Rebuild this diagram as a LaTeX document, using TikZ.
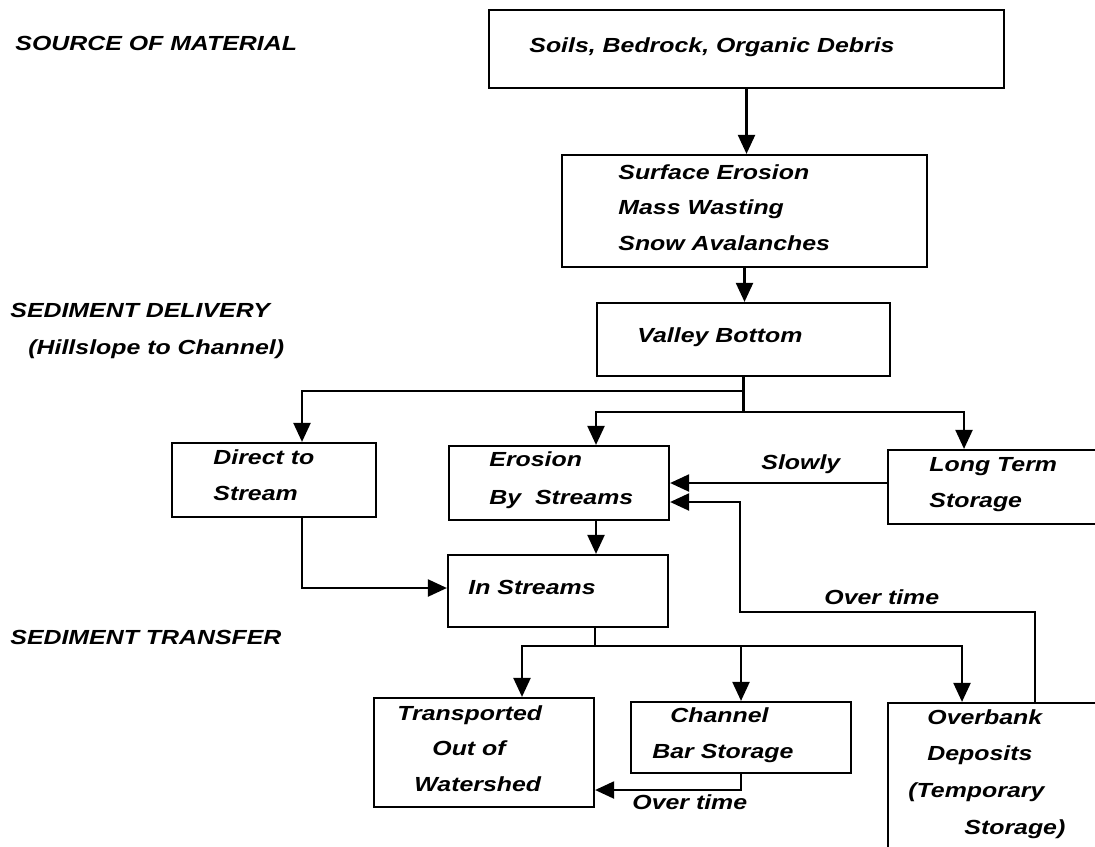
\documentclass[tikz,border=0pt]{standalone}
\usepackage{fontspec}
\newfontfamily\chartfont{Liberation Sans}[FakeStretch=1.22]
\usetikzlibrary{arrows.meta,fit}
\tikzstyle{every node}=[anchor=base west,inner sep=0pt,font=\chartfont\bfseries\itshape\fontsize{10.2}{12}\selectfont]
\tikzstyle{box}=[draw,line width=1.1pt,inner sep=0pt,anchor=center]
\tikzstyle{wire}=[line width=1.1pt]
\tikzstyle{flow}=[line width=1.1pt,-{Triangle[length=9.5pt,width=8.5pt]}]

\begin{document}
\begin{tikzpicture}[x=0.5pt,y=-0.5pt]
  \clip (0,0) rectangle (1095,846);
  \fill[white] (0,0) rectangle (1095,846);
  % stage headings
  \node (hsrc) at (15,50) {SOURCE OF MATERIAL};
  \node (hdel) at (10,317) {SEDIMENT DELIVERY};
  \node (hhill) at (28,354) {(Hillslope to Channel)};
  \node (htra) at (10,644) {SEDIMENT TRANSFER};
  % boxes
  \node[box,fit={(489,10) (1004,88)}] (src) {};
  \node[box,fit={(562,155) (927,267)}] (surf) {};
  \node[box,fit={(597,303) (890,376)}] (valley) {};
  \node[box,fit={(172,443) (376,517)}] (direct) {};
  \node[box,fit={(449,446) (669,520)}] (ero) {};
  \node[box,fit={(888,450) (1120,524)}] (store) {};
  \node[box,fit={(448,555) (668,627)}] (ins) {};
  \node[box,fit={(374,698) (594,807)}] (trans) {};
  \node[box,fit={(631,702) (851,773)}] (chan) {};
  \node[box,fit={(888,703) (1120,880)}] (bank) {};
  % box texts
  \node (t1) at (529,52) {Soils, Bedrock, Organic Debris};
  \node (t2) at (618,179) {Surface Erosion};
  \node (t3) at (618,214) {Mass Wasting};
  \node (t4) at (618,250) {Snow Avalanches};
  \node (t5) at (637,342) {Valley Bottom};
  \node (t6) at (213,464) {Direct to};
  \node (t7) at (213,500) {Stream};
  \node (t8) at (489,466) {Erosion};
  \node (t9) at (489,504) {By\ \ Streams};
  \node (t10) at (929,471) {Long Term};
  \node (t11) at (929,507) {Storage};
  \node (t12) at (468,594) {In Streams};
  \node (t13) at (397,720) {Transported};
  \node (t14) at (432,755) {Out of};
  \node (t15) at (414,791) {Watershed};
  \node (t16) at (670,722) {Channel};
  \node (t17) at (652,758) {Bar Storage};
  \node (t18) at (927,724) {Overbank};
  \node (t19) at (927,760) {Deposits};
  \node (t20) at (908,797) {(Temporary};
  \node (t21) at (964,834) {Storage)};
  % arrow labels
  \node (slow) at (761,469) {Slowly};
  \node (late1) at (824,604) {Over time};
  \node (late2) at (632,809) {Over time};
  % connectors
  \coordinate (v1) at (743.5,391);
  \coordinate (v2) at (743.5,412);
  \coordinate (back) at (740,612);
  \coordinate (s1) at (595,646);
  \draw[flow] (src.south) -- (src.south |- surf.north);
  \draw[flow] (surf.south) -- (surf.south |- valley.north);
  \draw[wire] (valley.south) -- (v2);
  \draw[flow] (v1) -| ([xshift=14pt]direct.north);
  \draw[flow] (v2) -| ([xshift=18.5pt]ero.north);
  \draw[flow] (v2) -| ([xshift=-20pt]store.north);
  \draw[flow] (ero.east -| store.west) -- (ero.east);
  \draw[flow] ([xshift=15.5pt]bank.north) |- (back) |- ([yshift=-9.5pt]ero.east);
  \draw[flow] ([xshift=18.5pt]ero.south) -- ([xshift=18.5pt]ero.south |- ins.north);
  \draw[flow] ([xshift=14pt]direct.south) |- ([yshift=1.5pt]ins.west);
  \draw[wire] ([xshift=18.5pt]ins.south) -- (s1);
  \draw[flow] (s1) -| ([xshift=19pt]trans.north);
  \draw[flow] (s1) -| (chan.north);
  \draw[flow] (s1) -| ([xshift=-21pt]bank.north);
  \draw[flow] (chan.south) |- ([yshift=-18.75pt]trans.east);
\end{tikzpicture}
\end{document}
